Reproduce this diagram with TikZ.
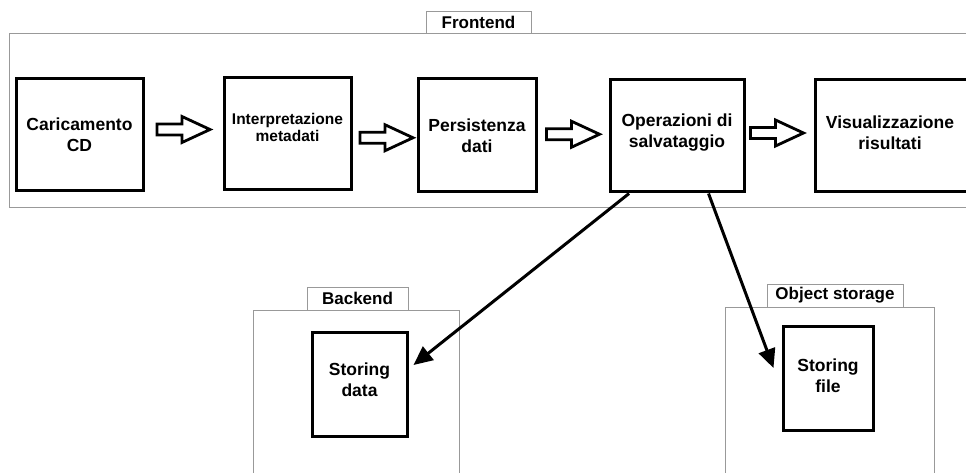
\documentclass[tikz,border=0pt]{standalone}
\usepackage{fontspec}
\setmainfont{Liberation Sans}
\usetikzlibrary{calc,arrows.meta}

\tikzset{
  stepbox/.style={draw=black, line width=3pt, fill=white, inner sep=0pt,
    align=center, font=\fontsize{17.5}{21}\selectfont\bfseries},
  steptext/.style={align=center, inner sep=0pt, font=\fontsize{17.5}{21}\selectfont\bfseries},
  area/.style={draw=black!40, line width=0.9pt, fill=white},
  tab/.style={draw=black!40, line width=0.9pt, fill=white, inner sep=0pt,
    font=\fontsize{17}{18}\selectfont\bfseries},
  link/.style={line width=3pt, -{Triangle[length=19pt,width=17pt]}},
  pics/blockarrow/.style={code={
    \draw[line width=2.8pt, fill=white, line join=miter]
      (-26.5,-5.5) -- (-1.5,-5.5) -- (-1.5,-13) -- (26.5,0)
      -- (-1.5,13) -- (-1.5,5.5) -- (-26.5,5.5) -- cycle;
  }}
}

\begin{document}
\begin{tikzpicture}[x=1pt, y=-1pt]
  \useasboundingbox (0,0) rectangle (966,473);
  \clip (0,0) rectangle (966,473);
  \fill[white] (0,0) rectangle (966,473);

  % Frontend area and its tab
  \draw[area] (9,33) rectangle (990,207);
  \node[tab, minimum width=105pt, minimum height=22pt] (fetab) at (478.5,22) {Frontend};

  % Backend area and its tab
  \draw[area] (253,310) rectangle (459,490);
  \node[tab, minimum width=101pt, minimum height=23pt] (betab) at (357.5,298.5) {Backend};

  % Object storage area and its tab
  \draw[area] (725,307) rectangle (934,490);
  \node[tab, minimum width=136pt, minimum height=23pt] (ostab) at (835,295.5) {Object storage};

  % Frontend steps
  \node[stepbox, minimum width=127pt, minimum height=112pt] (car) at (79.5,135) {Caricamento\\CD};
  \node[stepbox, minimum width=127pt, minimum height=112pt] (int) at (287.5,134) {};
  \node[steptext, font=\fontsize{15.5}{17}\selectfont\bfseries] (inttxt) at (287.5,127) {Interpretazione\\metadati};
  \node[stepbox, minimum width=118pt, minimum height=113pt] (per) at (477,135.5) {Persistenza\\dati};
  \node[stepbox, minimum width=134pt, minimum height=112pt] (ope) at (677,136) {};
  \node[steptext] (opetxt) at (677,132.5) {Operazioni di\\salvataggio};
  \node[stepbox, minimum width=175pt, minimum height=112pt] (vis) at (902.5,136) {};
  \node[steptext] (vistxt) at (890,132.5) {Visualizzazione\\risultati};

  % Storage steps
  \node[stepbox, minimum width=95pt, minimum height=104pt] (sd) at (359.5,384) {};
  \node[steptext] (sdtxt) at (359.5,379.5) {Storing\\data};
  \node[stepbox, minimum width=90pt, minimum height=104pt] (sf) at (828,378) {};
  \node[steptext] (sftxt) at (828,375.5) {Storing\\file};

  % Block arrows between consecutive steps
  \pic at ($(car.east)!0.5!(int.west)+(0,-5)$) {blockarrow};
  \pic at ($(int.east)!0.5!(per.west)+(2,3)$) {blockarrow};
  \pic at ($(per.east)!0.5!(ope.west)+(0,-1.5)$) {blockarrow};
  \pic at ($(ope.east)!0.5!(vis.west)+(-2.5,-3)$) {blockarrow};

  % Links from the saving step to the storages
  \coordinate (sdin) at ($(sd.east)+(5,-19)$);
  \coordinate (sfin) at ($(sf.west)+(-8,-10)$);
  \draw[link] ($(ope.south west)!0.15!(ope.south east)$) -- (sdin);
  \draw[link] ($(ope.south west)!0.73!(ope.south east)$) -- (sfin);
\end{tikzpicture}
\end{document}
